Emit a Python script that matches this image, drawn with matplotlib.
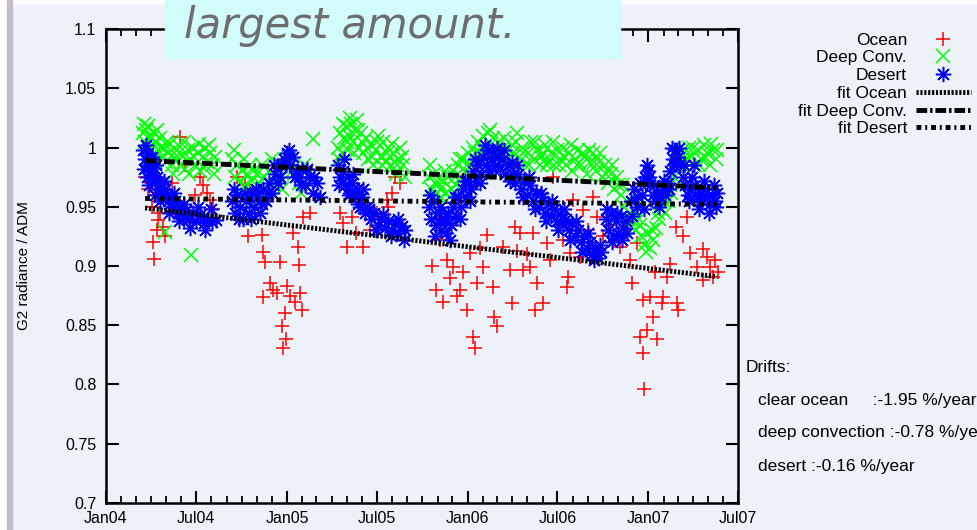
import pandas as pd
import matplotlib
matplotlib.use("Agg")
import matplotlib.pyplot as plt
import matplotlib.dates as mdates
from matplotlib.patches import Rectangle

# day offsets from 2004-01-01 and normalised radiance
ocean_days = [79, 85, 89, 93, 99, 105, 109, 95, 96, 115, 125, 133, 149, 160, 170, 180, 190, 196, 204, 210, 216, 139, 119, 103,
              265, 281, 291, 287, 315, 317, 321, 351, 331, 345, 366, 392, 396, 362, 356, 363, 358, 388, 389, 378, 398, 412, 318, 271, 301, 337, 372, 382,
              479, 487, 519, 497, 568, 578, 594, 570, 547, 533, 473, 505, 584, 557,
              675, 689, 701, 715, 729, 741, 745, 721, 735, 762, 749, 782, 783, 790, 820, 770, 802, 816, 826, 836, 830, 842, 659, 667, 681, 695, 709, 671, 756,
              863, 871, 867, 883, 891, 897, 923, 933, 931, 943, 964, 984, 992, 903, 937, 957, 856, 850, 917, 974, 1004, 1018,
              1038, 1058, 1073, 1063, 1085, 1099, 1105, 1093, 1113, 1086, 1087, 1125, 1123, 1153, 1155, 1139, 1151, 1166, 1174, 1180, 1194, 1206, 1214, 1220, 1207, 1226, 1133, 1048, 1109, 1230, 1236, 1079]
ocean_vals = [0.975, 0.965, 0.981, 0.950, 0.960, 0.939, 0.945, 0.920, 0.906, 0.933, 0.955, 0.970, 1.009, 0.985, 0.936, 0.960, 0.975, 0.968, 0.962, 0.956, 0.948, 0.945, 0.925, 0.930,
              0.975, 0.968, 0.962, 0.925, 0.926, 0.912, 0.903, 0.903, 0.886, 0.877, 0.883, 0.877, 0.863, 0.860, 0.849, 0.838, 0.831, 0.916, 0.901, 0.928, 0.941, 0.945, 0.874, 0.950, 0.945, 0.880, 0.875, 0.870,
              0.936, 0.916, 0.916, 0.941, 0.956, 0.962, 0.970, 0.950, 0.945, 0.930, 0.945, 0.928, 0.975, 0.940,
              0.922, 0.905, 0.899, 0.880, 0.863, 0.840, 0.831, 0.895, 0.911, 0.899, 0.886, 0.882, 0.857, 0.849, 0.869, 0.926, 0.916, 0.897, 0.933, 0.928, 0.913, 0.897, 0.900, 0.880, 0.870, 0.890, 0.875, 0.940, 0.915,
              0.928, 0.886, 0.863, 0.869, 0.919, 0.905, 0.922, 0.891, 0.882, 0.956, 0.947, 0.958, 0.941, 0.975, 0.911, 0.908, 0.899, 0.910, 0.935, 0.930, 0.925, 0.935,
              0.916, 0.905, 0.919, 0.886, 0.871, 0.874, 0.857, 0.846, 0.838, 0.827, 0.796, 0.874, 0.869, 0.869, 0.863, 0.902, 0.933, 0.925, 0.941, 0.911, 0.899, 0.914, 0.908, 0.899, 0.888, 0.891, 0.891, 0.930, 0.895, 0.905, 0.895, 0.840]

conv_days = [75, 78, 81, 84, 87, 90, 93, 96, 99, 102, 106, 110, 114, 118, 122, 126, 130, 134, 138, 142, 146, 150, 155, 160, 165, 170, 175, 180, 185, 190, 195, 200, 205, 210, 215, 220, 119, 172,
             77, 85, 95, 104, 112, 124, 136, 148, 158, 168, 178, 188, 198, 208, 218,
             255, 260, 265, 270, 275, 280, 285, 290, 295, 300, 305, 310, 315, 320, 325, 330, 340, 350, 360, 370, 380, 390, 400, 410, 418,
             258, 268, 278, 288, 298, 308, 318, 335, 355, 375, 395,
             468, 472, 476, 480, 484, 488, 492, 496, 500, 504, 508, 512, 516, 520, 525, 530, 535, 540, 545, 550, 555, 560, 565, 570, 575, 580, 585, 590, 595, 600, 605,
             470, 478, 486, 494, 502, 510, 518, 528, 538, 548, 558, 568, 578, 588, 598,
             652, 657, 662, 667, 672, 677, 682, 687, 692, 697, 702, 707, 712, 717, 722, 727, 732, 737, 742, 747, 752, 757, 762, 767, 772, 777, 782, 787, 792, 797, 802, 807, 812, 817, 822,
             655, 665, 675, 685, 695, 705, 715, 730, 745, 760, 775, 790, 805, 820,
             828, 834, 840, 846, 852, 858, 864, 870, 876, 882, 888, 894, 900, 906, 912, 918, 924, 930, 936, 942, 948, 954, 960, 966, 972, 978, 984, 990, 996, 1002, 1008, 1014, 1020, 1026, 1032,
             831, 843, 855, 867, 879, 891, 903, 915, 927, 939, 951, 963, 975, 987, 999, 1011, 1023, 1035,
             1040, 1046, 1052, 1058, 1064, 1070, 1076, 1082, 1088, 1094, 1100, 1106, 1112, 1118, 1124, 1130, 1136, 1142, 1148, 1154, 1160, 1166, 1172, 1178, 1184, 1190, 1196, 1202, 1208, 1214, 1220, 1226, 1232,
             1043, 1055, 1067, 1079, 1091, 1103, 1115, 1127, 1139, 1151, 1163, 1175, 1187, 1199, 1211, 1223, 1235]
conv_vals = [1.012, 1.005, 1.015, 1.000, 1.010, 0.998, 1.008, 1.012, 0.995, 1.005, 0.998, 1.008, 0.992, 1.000, 0.988, 0.995, 1.003, 0.985, 0.995, 0.990, 1.002, 0.985, 0.993, 0.982, 0.998, 0.990, 1.000, 0.985, 0.995, 0.980, 0.992, 1.000, 0.988, 0.995, 0.985, 0.992, 0.929, 0.909,
             1.020, 1.018, 1.003, 1.015, 1.000, 1.005, 0.978, 0.995, 1.005, 0.978, 0.992, 1.003, 0.983, 1.002, 0.978,
             0.990, 0.975, 0.985, 0.970, 0.980, 0.968, 0.978, 0.985, 0.972, 0.965, 0.978, 0.970, 0.985, 0.975, 0.962, 0.980, 0.968, 0.975, 0.985, 0.990, 0.978, 0.970, 0.985, 0.975, 1.007,
             0.998, 0.962, 0.990, 0.960, 0.980, 0.958, 0.965, 0.990, 0.965, 0.980, 0.962,
             1.000, 1.012, 0.995, 1.008, 1.018, 0.998, 1.010, 1.020, 1.005, 1.015, 1.023, 1.000, 1.012, 0.995, 1.008, 0.990, 1.002, 0.985, 0.998, 1.010, 0.992, 1.005, 0.988, 1.000, 0.985, 0.995, 0.978, 0.990, 1.000, 0.985, 0.975,
             0.990, 1.020, 1.005, 1.025, 0.995, 1.015, 1.005, 1.000, 0.992, 1.005, 0.985, 0.995, 1.003, 0.985, 0.992,
             0.975, 0.965, 0.978, 0.960, 0.970, 0.958, 0.972, 0.962, 0.975, 0.965, 0.980, 0.968, 0.985, 0.975, 0.990, 0.980, 0.995, 0.985, 1.000, 0.990, 1.005, 0.995, 1.010, 0.998, 1.012, 1.003, 1.008, 0.995, 1.005, 0.992, 1.000, 0.988, 0.998, 0.985, 0.995,
             0.985, 0.970, 0.965, 0.980, 0.958, 0.975, 0.990, 0.985, 0.995, 1.000, 1.015, 1.000, 1.008, 1.002,
             1.005, 0.992, 1.000, 0.985, 0.995, 1.005, 0.990, 0.998, 0.985, 0.995, 1.002, 0.988, 0.995, 0.985, 0.998, 0.990, 1.000, 0.985, 0.995, 0.980, 0.990, 0.998, 0.985, 0.992, 0.978, 0.988, 0.995, 0.980, 0.988, 0.975, 0.985, 0.970, 0.978, 0.965, 0.975,
             1.012, 0.995, 0.985, 1.005, 0.992, 0.985, 1.005, 0.985, 0.992, 1.002, 0.985, 0.995, 0.998, 0.988, 0.995, 0.978, 0.985, 0.968,
             0.960, 0.950, 0.955, 0.945, 0.938, 0.930, 0.940, 0.925, 0.918, 0.928, 0.915, 0.922, 0.932, 0.940, 0.948, 0.945, 0.955, 0.962, 0.975, 0.985, 0.992, 0.998, 0.990, 1.000, 0.993, 0.985, 0.998, 0.990, 1.002, 0.995, 0.985, 0.998, 0.990,
             0.968, 0.940, 0.948, 0.935, 0.912, 0.930, 0.945, 0.955, 0.968, 0.995, 0.985, 0.990, 1.000, 0.985, 0.992, 1.003, 0.998]

desert_days = [75, 78, 80, 83, 85, 88, 90, 93, 96, 100, 104, 108, 112, 116, 120, 125, 130, 135, 140, 145, 150, 156, 162, 168, 175, 182, 190, 198, 206, 214, 222,
               77, 82, 87, 92, 98, 102, 110, 118, 128, 138, 148, 158, 170, 185, 200, 212,
               255, 260, 265, 270, 276, 282, 288, 294, 300, 306, 312, 318, 324, 330, 336, 342, 348, 354, 360, 366, 372, 378, 384, 390, 396, 402, 410, 418, 426, 432,
               258, 268, 280, 292, 304, 316, 328, 340, 352, 364, 370, 382, 394, 406, 420,
               468, 473, 478, 483, 488, 493, 498, 503, 508, 513, 518, 523, 528, 535, 542, 549, 556, 563, 570, 577, 584, 591, 598, 605,
               470, 480, 490, 500, 510, 520, 532, 545, 560, 575, 590, 602,
               652, 657, 662, 667, 672, 677, 682, 687, 692, 697, 702, 707, 712, 717, 722, 727, 732, 737, 742, 747, 752, 757, 762, 767, 772, 777, 782, 787, 792, 797, 802, 807, 812, 817, 822,
               655, 665, 675, 685, 695, 705, 715, 725, 735, 745, 755, 765, 775, 790, 805, 820,
               827, 833, 839, 845, 851, 857, 863, 869, 875, 881, 887, 893, 899, 905, 911, 917, 923, 929, 935, 941, 947, 953, 959, 965, 971, 977, 983, 989, 995, 1001,
               830, 842, 855, 866, 878, 890, 902, 914, 926, 938, 950, 962, 974, 986, 998,
               1010, 1015, 1020, 1025, 1030, 1035, 1040, 1045, 1050, 1060, 1066, 1072, 1078, 1084, 1090, 1096, 1100,
               1105, 1110, 1115, 1120, 1125, 1130, 1135, 1140, 1145, 1150, 1155, 1160, 1165, 1170, 1175, 1180, 1185, 1190, 1195, 1200, 1205, 1210, 1215, 1220, 1225, 1230, 1235,
               1012, 1022, 1032, 1042, 1052, 1063, 1075, 1087, 1093, 1098, 1108, 1118, 1128, 1138, 1143, 1148, 1158, 1168, 1178, 1188, 1198, 1208, 1218, 1228, 1233]
desert_vals = [0.998, 0.990, 1.002, 0.985, 0.995, 0.980, 0.990, 0.975, 0.983, 0.970, 0.975, 0.965, 0.970, 0.960, 0.965, 0.955, 0.958, 0.950, 0.955, 0.945, 0.950, 0.942, 0.947, 0.940, 0.945, 0.938, 0.943, 0.936, 0.940, 0.937, 0.939,
               0.982, 0.975, 0.968, 0.992, 0.960, 0.985, 0.955, 0.972, 0.945, 0.962, 0.938, 0.952, 0.932, 0.950, 0.930, 0.948,
               0.955, 0.945, 0.960, 0.950, 0.940, 0.955, 0.945, 0.962, 0.950, 0.958, 0.945, 0.965, 0.955, 0.970, 0.962, 0.978, 0.970, 0.985, 0.990, 0.995, 0.985, 0.992, 0.980, 0.975, 0.982, 0.968, 0.975, 0.962, 0.970, 0.958,
               0.965, 0.940, 0.962, 0.940, 0.965, 0.952, 0.962, 0.985, 0.975, 0.985, 0.998, 0.975, 0.968, 0.982, 0.975,
               0.985, 0.975, 0.980, 0.968, 0.975, 0.962, 0.970, 0.958, 0.965, 0.950, 0.958, 0.945, 0.950, 0.940, 0.945, 0.935, 0.940, 0.932, 0.938, 0.930, 0.936, 0.928, 0.934, 0.930,
               0.968, 0.990, 0.960, 0.978, 0.952, 0.965, 0.948, 0.930, 0.944, 0.925, 0.940, 0.922,
               0.950, 0.940, 0.955, 0.935, 0.945, 0.930, 0.940, 0.928, 0.945, 0.935, 0.950, 0.942, 0.958, 0.950, 0.965, 0.958, 0.972, 0.965, 0.980, 0.972, 0.985, 0.978, 0.992, 0.985, 0.998, 0.990, 0.995, 0.985, 0.992, 0.982, 0.990, 0.978, 0.985, 0.972, 0.978,
               0.960, 0.925, 0.950, 0.938, 0.922, 0.958, 0.940, 0.972, 0.955, 0.990, 0.970, 1.002, 0.980, 1.000, 0.998, 0.988,
               0.970, 0.978, 0.965, 0.972, 0.960, 0.968, 0.955, 0.962, 0.950, 0.958, 0.945, 0.952, 0.942, 0.948, 0.938, 0.944, 0.935, 0.940, 0.930, 0.936, 0.925, 0.930, 0.920, 0.925, 0.915, 0.920, 0.910, 0.915, 0.907, 0.912,
               0.985, 0.958, 0.975, 0.948, 0.962, 0.938, 0.955, 0.930, 0.948, 0.922, 0.938, 0.912, 0.928, 0.905, 0.918,
               0.940, 0.930, 0.945, 0.925, 0.938, 0.928, 0.942, 0.932, 0.938, 0.955, 0.965, 0.950, 0.970, 0.960, 0.975, 0.980, 0.968,
               0.960, 0.955, 0.962, 0.958, 0.965, 0.960, 0.970, 0.980, 0.990, 0.998, 0.992, 0.985, 0.975, 0.968, 0.960, 0.965, 0.975, 0.968, 0.958, 0.962, 0.955, 0.965, 0.958, 0.952, 0.960, 0.955, 0.962,
               0.948, 0.920, 0.945, 0.922, 0.928, 0.942, 0.958, 0.948, 0.985, 0.975, 0.968, 0.950, 0.972, 0.965, 1.000, 0.985, 1.000, 0.985, 0.955, 0.985, 0.948, 0.972, 0.945, 0.968, 0.950]

# linear fits (start / end of data period)
fit_days = [79, 1234]
fit_ocean = [0.949, 0.891]
fit_conv = [0.989, 0.966]
fit_desert = [0.957, 0.952]

drift_lines = ["Drifts:", "clear ocean     :-1.95 %/year", "deep convection :-0.78 %/year", "desert :-0.16 %/year"]

start = pd.Timestamp("2004-01-01")
def to_dates(days):
    return start + pd.to_timedelta(days, unit="D")

plt.rcParams.update({"font.family": ["Liberation Sans", "DejaVu Sans"]})
bg = "#edf1f8"

fig = plt.figure(figsize=(9.78, 5.30), dpi=100, facecolor="white")
# slide background + left border bar
fig.patches.append(Rectangle((12 / 978, 0), 1, 525 / 530, transform=fig.transFigure, color=bg, zorder=-10))
fig.patches.append(Rectangle((7 / 978, 0), 5 / 978, 1, transform=fig.transFigure, color="#c7bcc9", zorder=-9))

ax = fig.add_axes([106 / 978, 27 / 530, 632 / 978, 474 / 530])
ax.set_facecolor(bg)

ax.plot(to_dates(ocean_days), ocean_vals, "+", color="#ff0000", ms=10, mew=1.1, label="Ocean", zorder=2)
ax.plot(to_dates(conv_days), conv_vals, "x", color="#00ff00", ms=10, mew=1.1, label="Deep Conv.", zorder=3)
ax.plot(to_dates(desert_days), desert_vals, marker=(8, 2, 0), ls="none", color="#0000ff", ms=11, mew=1.1, label="Desert", zorder=4)

ax.plot(to_dates(fit_days), fit_ocean, color="black", lw=3.5, dashes=(0.45, 0.35), label="fit Ocean", zorder=5)
ax.plot(to_dates(fit_days), fit_conv, color="black", lw=3.5, dashes=(2.2, 0.6, 0.5, 0.6), label="fit Deep Conv.", zorder=5)
ax.plot(to_dates(fit_days), fit_desert, color="black", lw=3.5, dashes=(1.0, 0.8, 0.4, 0.8), label="fit Desert", zorder=5)

ax.set_xlim(pd.Timestamp("2004-01-01"), pd.Timestamp("2007-07-01"))
ax.set_ylim(0.7, 1.1)
ax.set_yticks([0.7, 0.75, 0.8, 0.85, 0.9, 0.95, 1.0, 1.05, 1.1])
ax.set_yticklabels(["0.7", "0.75", "0.8", "0.85", "0.9", "0.95", "1", "1.05", "1.1"])
ax.xaxis.set_major_locator(mdates.MonthLocator(bymonth=[1, 7]))
ax.xaxis.set_major_formatter(mdates.DateFormatter("%b%y"))
ax.xaxis.set_minor_locator(mdates.MonthLocator())
ax.tick_params(which="major", direction="in", length=9, width=1.5, top=True, right=True, labelsize=11.5)
ax.tick_params(axis="y", pad=7)
ax.tick_params(axis="x", pad=6)
ax.tick_params(which="minor", direction="in", length=5, width=1.3, top=True)
for s in ax.spines.values():
    s.set_linewidth(1.8)
ax.set_ylabel("G2 radiance / ADM", fontsize=11)
ax.yaxis.set_label_coords(-0.118, 0.5)

leg = ax.legend(loc="upper right", bbox_to_anchor=(1.002, 0.955), bbox_transform=fig.transFigure,
                frameon=False, markerfirst=False, numpoints=1, handlelength=3.2, handletextpad=0.5,
                labelspacing=0.15, fontsize=12.5, borderpad=0)

for i, t in enumerate(drift_lines):
    x = 746 if i == 0 else 758
    y = [367, 400, 433, 466][i]
    fig.text(x / 978, 1 - y / 530, t, fontsize=12.5, va="center", ha="left")

# cropped slide text box above the chart
fig.patches.append(Rectangle((165 / 978, 1 - 58 / 530), 455 / 978, 58 / 530, transform=fig.transFigure, color="#d2fbfc", zorder=10))
fig.text(184 / 978, 1 - 38 / 530, "largest amount.", fontsize=30, style="italic", color="#6d6d6d",
         family="DejaVu Sans", va="baseline", ha="left", zorder=11)

fig.savefig("out.png", dpi=100, facecolor=fig.get_facecolor())
